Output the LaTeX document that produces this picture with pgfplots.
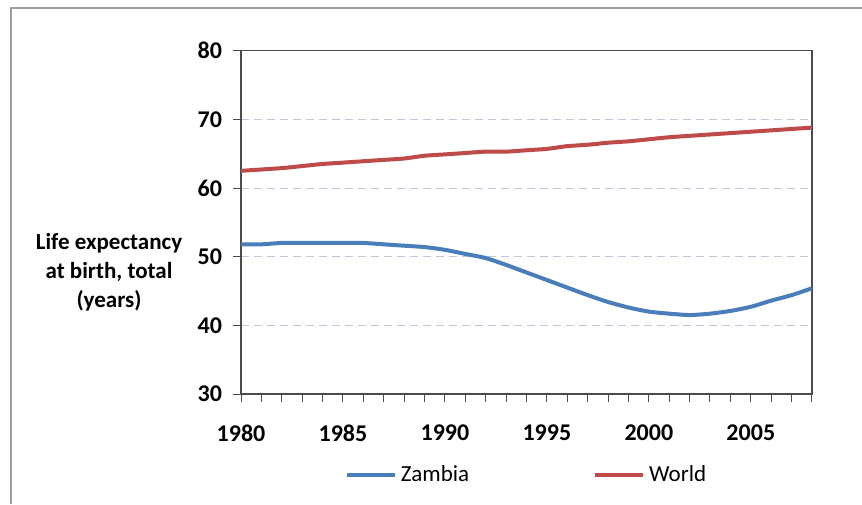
\documentclass[border=0pt]{standalone}
\usepackage{fontspec}
\setmainfont{Carlito}
\usepackage{pgfplots}
\pgfplotsset{compat=1.18}
\definecolor{zblue}{RGB}{74,126,187}
\definecolor{wred}{RGB}{190,75,72}
\definecolor{gridc}{RGB}{190,200,218}
\begin{document}
\begin{tikzpicture}
\useasboundingbox (0,0) rectangle (431pt,252pt);
\draw[gray!75, line width=0.8pt] (5.5pt,0) -- (5.5pt,248pt) -- (431pt,248pt);
\node[align=center, font=\fontsize{11.5}{14.5}\selectfont\bfseries] at (54.5pt,116pt) {Life expectancy\\at birth, total\\(years)};
\begin{axis}[
  at={(120.5pt,55pt)}, anchor=south west,
  scale only axis, width=285.5pt, height=171.65pt,
  xmin=1980, xmax=2008, ymin=30, ymax=80,
  xtick={1980,1985,...,2005}, minor xtick={1980,...,2008},
  ytick={30,40,...,80},
  tick align=outside,
  major tick length=4pt, minor tick length=4pt,
  xtick pos=bottom, ytick pos=left,
  tick style={black!70, line width=0.5pt},
  axis line style={black!70, line width=0.6pt},
  ymajorgrids, grid style={gridc, dash pattern=on 4pt off 2.5pt, line width=0.5pt},
  /pgf/number format/assume math mode=true,
  /pgf/number format/1000 sep={},
  ticklabel style={font=\fontsize{12}{14}\selectfont\bfseries},
  yticklabel style={xshift=-2pt},
  xticklabel style={yshift=-8pt},
  legend columns=2,
  legend style={at={(0.5,-0.236)}, anchor=center, draw=none, fill=none,
    font=\fontsize{11.5}{14}\selectfont, column sep=1pt,
    nodes={inner sep=1pt}},
  legend image code/.code={\draw[#1] (0pt,0pt) -- (24pt,0pt);},
  /tikz/column 2/.style={column sep=61pt},
]
\addplot[zblue, line width=2pt, smooth, tension=0.4] coordinates {
(1980,51.8)(1981,51.8)(1982,52.0)(1983,52.0)(1984,52.0)(1985,52.0)(1986,52.0)
(1987,51.8)(1988,51.6)(1989,51.4)(1990,51.0)(1991,50.4)(1992,49.8)(1993,48.8)
(1994,47.7)(1995,46.6)(1996,45.5)(1997,44.4)(1998,43.4)(1999,42.6)(2000,42.0)
(2001,41.7)(2002,41.5)(2003,41.7)(2004,42.1)(2005,42.7)(2006,43.6)(2007,44.4)(2008,45.4)};
\addlegendentry{Zambia}
\addplot[wred, line width=2pt, smooth, tension=0.4] coordinates {
(1980,62.5)(1981,62.7)(1982,62.9)(1983,63.2)(1984,63.5)(1985,63.7)(1986,63.9)
(1987,64.1)(1988,64.3)(1989,64.7)(1990,64.9)(1991,65.1)(1992,65.3)(1993,65.3)
(1994,65.5)(1995,65.7)(1996,66.1)(1997,66.3)(1998,66.6)(1999,66.8)(2000,67.1)
(2001,67.4)(2002,67.6)(2003,67.8)(2004,68.0)(2005,68.2)(2006,68.4)(2007,68.6)(2008,68.8)};
\addlegendentry{World}
\end{axis}
\end{tikzpicture}
\end{document}
